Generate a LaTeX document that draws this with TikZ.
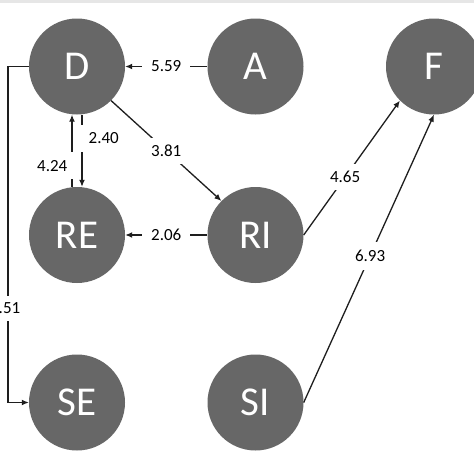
\documentclass[tikz,border=0pt]{standalone}
\usepackage{fontspec}
\setmainfont{Carlito}
\usetikzlibrary{arrows.meta}
\definecolor{circ}{HTML}{676767}
\definecolor{ln}{HTML}{1E1E1E}
\definecolor{strip}{HTML}{E6E6E6}
\tikzset{
  circnode/.style={circle,fill=circ,draw=none,minimum size=96pt,inner sep=0pt,text=white,font=\fontsize{41}{41}\selectfont},
  arr/.style={draw=ln,line width=1.3pt,-{Latex[length=7pt,width=6pt]}},
  lblfont/.style={font=\fontsize{17}{17}\selectfont},
  lbl/.style={fill=white,text=black,lblfont,inner xsep=9pt,inner ysep=4pt},
  dlbl/.style={fill=white,text=black,lblfont,inner sep=7pt}
}
\begin{document}
\begin{tikzpicture}[x=1pt,y=-1pt]
\useasboundingbox (0,0) rectangle (474,474);
\clip (0,0) rectangle (474,474);
\fill[white] (0,0) rectangle (474,474);
\fill[strip] (0,0) rectangle (474,3);
\node[circnode] (D) at (77,66.5) {D};
\node[circnode] (A) at (255.5,66.5) {A};
\node[circnode] (F) at (434,66.5) {F};
\node[circnode] (RE) at (77,235) {RE};
\node[circnode] (RI) at (255.5,235) {RI};
\node[circnode] (SE) at (77,402.5) {SE};
\node[circnode] (SI) at (255.5,402.5) {SI};
\coordinate (c1) at (8,66.5);
% A -> D
\draw[arr] (A.west) -- node[lbl]{5.59} (D.east);
% RI -> RE
\draw[arr] (RI.west) -- node[lbl]{2.06} (RE.east);
% D -> RI
\draw[arr] (D.south east) -- node[dlbl]{3.81} (RI.north west);
% RE -> D
\draw[arr] ([xshift=-5pt]RE.north) -- node[pos=0.29,fill=white,anchor=east,xshift=1.5pt,inner xsep=5.5pt,inner ysep=8pt,lblfont]{4.24} ([xshift=-5pt]D.south);
% D -> RE
\draw[arr] ([xshift=5pt]D.south) -- node[pos=0.33,fill=white,anchor=west,xshift=-1.5pt,inner xsep=7.5pt,inner ysep=8pt,lblfont]{2.40} ([xshift=5pt]RE.north);
% RI -> F
\draw[arr] (RI.east) -- node[pos=0.43,dlbl]{4.65} (F.south west);
% SI -> F
\draw[arr] (SI.east) -- node[pos=0.51,fill=white,lblfont,inner xsep=3pt,inner ysep=8pt]{6.93} (F.south);
% D -> SE
\draw[arr] (D.west) -- (c1) |- node[pos=0.36,fill=white,lblfont,inner xsep=3pt,inner ysep=7pt,xshift=1.5pt]{.51} (SE.west);
\end{tikzpicture}
\end{document}
